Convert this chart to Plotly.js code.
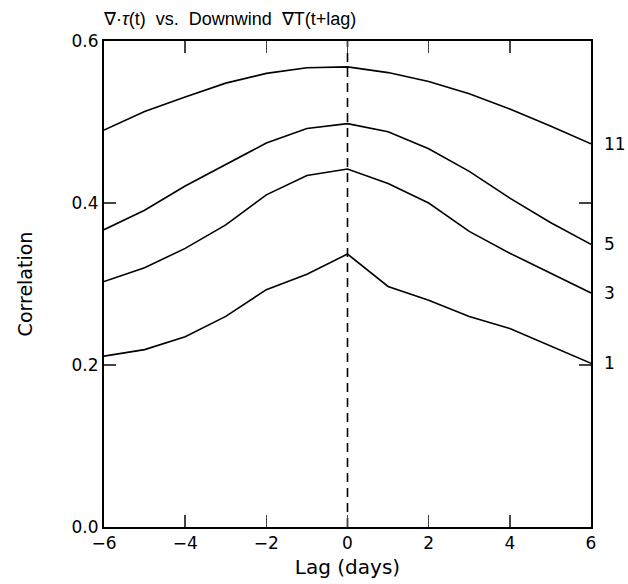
<!DOCTYPE html>
<html>
<head>
<meta charset="utf-8">
<script src="https://cdn.plot.ly/plotly-3.0.1.min.js"></script>
<style>html,body{margin:0;padding:0;background:#fff;}#chart{width:628px;height:584px;}</style>
</head>
<body>
<div id="chart"></div>
<script>
var lags = [-6,-5,-4,-3,-2,-1,0,1,2,3,4,5,6];
var seriesNames = ["11","5","3","1"];
var corr11 = [0.490,0.513,0.531,0.548,0.560,0.567,0.568,0.561,0.550,0.535,0.516,0.495,0.473];
var corr5  = [0.367,0.391,0.421,0.448,0.474,0.492,0.498,0.488,0.467,0.439,0.406,0.376,0.349];
var corr3  = [0.303,0.320,0.344,0.373,0.410,0.434,0.442,0.424,0.400,0.365,0.338,0.314,0.289];
var corr1  = [0.211,0.219,0.235,0.260,0.293,0.312,0.337,0.297,0.280,0.260,0.245,0.223,0.202];
var zeroLagX = [0,0];
var zeroLagY = [0,0.6];
var xTicks = [-6,-4,-2,0,2,4,6];
var yTicks = [0.0,0.2,0.4,0.6];
var yTickText = ["0.0","0.2","0.4","0.6"];

var allSeries = [corr11,corr5,corr3,corr1];
var font = "Liberation Sans, Arial, sans-serif";
var wide = "DejaVu Sans, sans-serif";
var traces = allSeries.map(function(s,i){
  return {x:lags, y:s, mode:"lines", type:"scatter", name:seriesNames[i],
          line:{color:"#000", width:1.6}, hoverinfo:"skip"};
});
traces.push({x:zeroLagX, y:zeroLagY, mode:"lines", type:"scatter",
  line:{color:"#000", width:1.6, dash:"9px,6px"}, hoverinfo:"skip"});

var annotations = allSeries.map(function(s,i){
  return {x:lags[lags.length-1], y:s[s.length-1], xref:"x", yref:"y",
    text:seriesNames[i], showarrow:false, xanchor:"left", xshift:11,
    font:{family:wide, size:17, color:"#000"}};
});

var layout = {
  width:628, height:584,
  margin:{l:104, r:37, t:41, b:57},
  paper_bgcolor:"#fff", plot_bgcolor:"#fff",
  showlegend:false,
  title:{text:"∇·<i>τ</i>(t)  vs.  Downwind  ∇T(t+lag)", x:104/628, xanchor:"left", y:1-19/584, yanchor:"middle",
         font:{family:font, size:18, color:"#000"}},
  xaxis:{range:[-6,6], tickvals:xTicks, ticks:"inside", ticklen:12, tickwidth:1.6,
         showline:true, linecolor:"#000", linewidth:2, mirror:"ticks", showgrid:false, zeroline:false,
         tickfont:{family:wide, size:17, color:"#000"},
         title:{text:"Lag (days)", font:{family:wide, size:20, color:"#000"}, standoff:8}},
  yaxis:{range:[0,0.6], tickvals:yTicks, ticktext:yTickText, ticks:"inside", ticklen:12, tickwidth:1.6,
         showline:true, linecolor:"#000", linewidth:2, mirror:"ticks", showgrid:false, zeroline:false,
         tickfont:{family:wide, size:17, color:"#000"},
         title:{text:"Correlation", font:{family:wide, size:19, color:"#000"}, standoff:34}},
  annotations:annotations
};
Plotly.newPlot("chart", traces, layout, {staticPlot:true, displayModeBar:false});
</script>
</body>
</html>
